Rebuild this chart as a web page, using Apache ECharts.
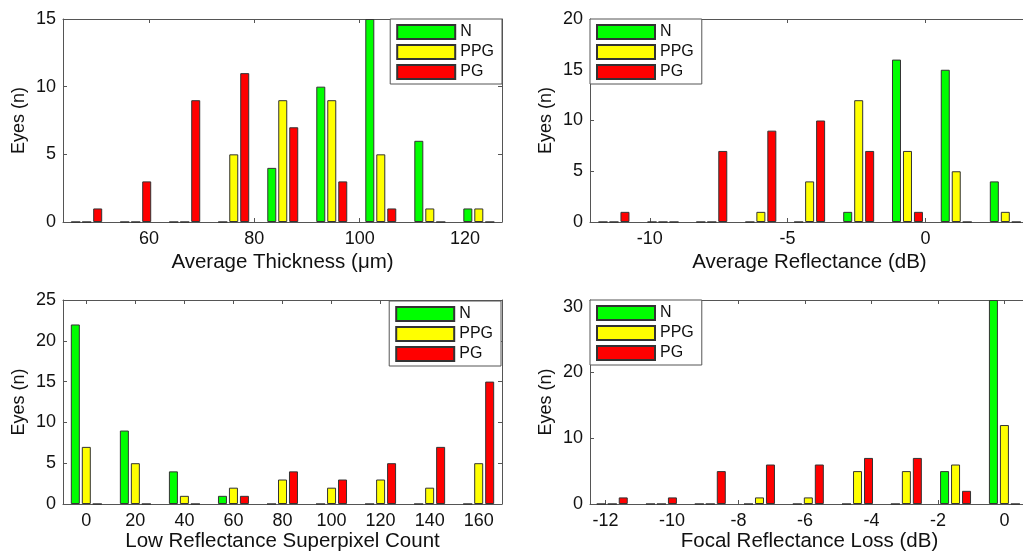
<!DOCTYPE html>
<html>
<head>
<meta charset="utf-8">
<script src="https://cdn.jsdelivr.net/npm/echarts@6/dist/echarts.min.js"></script>
<style>
  html, body { margin: 0; padding: 0; background: #fff; }
  #main { width: 1023px; height: 552px; }
</style>
</head>
<body>
<div id="main"></div>
<script>
// bin centres and counts
const thickBins = [48.2, 57.5, 66.8, 76.1, 85.4, 94.7, 104.0, 113.3, 122.6];
const thickN    = [0, 0, 0, 0, 4, 10, 15, 6, 1];
const thickPPG  = [0, 0, 0, 5, 9, 9, 5, 1, 1];
const thickPG   = [1, 3, 9, 11, 7, 3, 1, 0, 0];
const thickTicks = [60, 80, 100, 120];

const reflBins = [-11.3, -9.52, -7.75, -5.97, -4.2, -2.42, -0.65, 1.12, 2.9];
const reflN    = [0, 0, 0, 0, 0, 1, 16, 15, 4];
const reflPPG  = [0, 0, 0, 1, 4, 12, 7, 5, 1];
const reflPG   = [1, 0, 7, 9, 10, 7, 1, 0, 0];
const reflTicks = [-10, -5, 0];

const lowBins = [0, 20, 40, 60, 80, 100, 120, 140, 160];
const lowN    = [22, 9, 4, 1, 0, 0, 0, 0, 0];
const lowPPG  = [7, 5, 1, 2, 3, 2, 3, 2, 5];
const lowPG   = [0, 0, 0, 1, 4, 3, 5, 7, 15];
const lowTicks = [0, 20, 40, 60, 80, 100, 120, 140, 160];

const focalBins = [-11.8, -10.32, -8.85, -7.37, -5.9, -4.42, -2.95, -1.47, 0];
const focalN    = [0, 0, 0, 0, 0, 0, 0, 5, 31];
const focalPPG  = [0, 0, 0, 1, 1, 5, 5, 6, 12];
const focalPG   = [1, 1, 5, 6, 6, 7, 7, 2, 0];
const focalTicks = [-12, -10, -8, -6, -4, -2, 0];

const GROUPS = ['N', 'PPG', 'PG'];
const COLORS = { N: '#00ff00', PPG: '#ffff00', PG: '#ff0000' };
const FONT = '"Liberation Sans", Arial, sans-serif';
const AXIS = '#555';

// the two right panels run past the right edge of the picture (right < 0)
const panels = [
  { bins: thickBins, vals: [thickN, thickPPG, thickPG], ticks: thickTicks,
    xMin: 43.7, xMax: 127.0, yMax: 15, yTicks: [0, 5, 10, 15],
    name: 'Average Thickness (\u03bcm)', nameGap: 30,
    grid: { left: 63, right: 521, top: 19, bottom: 330 },
    legend: { right: 521, top: 19 } },
  { bins: reflBins, vals: [reflN, reflPPG, reflPG], ticks: reflTicks,
    xMin: -12.17, xMax: 3.76, yMax: 20, yTicks: [0, 5, 10, 15, 20],
    name: 'Average Reflectance (dB)', nameGap: 30,
    grid: { left: 590, right: -6, top: 19, bottom: 330 },
    legend: { left: 590, top: 19 } },
  { bins: lowBins, vals: [lowN, lowPPG, lowPG], ticks: lowTicks,
    xMin: -9.5, xMax: 169.5, yMax: 25, yTicks: [0, 5, 10, 15, 20, 25],
    name: 'Low Reflectance Superpixel Count', nameGap: 25,
    grid: { left: 63, right: 521, top: 300, bottom: 48 },
    legend: { right: 522, top: 301 } },
  { bins: focalBins, vals: [focalN, focalPPG, focalPG], ticks: focalTicks,
    xMin: -12.47, xMax: 0.74, yMax: 31, yTicks: [0, 10, 20, 30],
    name: 'Focal Reflectance Loss (dB)', nameGap: 25,
    grid: { left: 590, right: -6, top: 300, bottom: 48 },
    legend: { left: 590, top: 300 } }
];

const grid = [], xAxis = [], yAxis = [], series = [], legend = [];

panels.forEach((p, i) => {
  grid.push(Object.assign({ show: false, outerBoundsMode: 'none', containLabel: false }, p.grid));

  const tickStyle = { show: true, inside: true, length: 4, lineStyle: { color: AXIS } };
  const lineStyle = { show: true, onZero: false, lineStyle: { color: AXIS, width: 1 } };

  // bottom x axis with labels, top one only for the box and ticks
  xAxis.push({
    type: 'value', gridIndex: i, position: 'bottom', min: p.xMin, max: p.xMax,
    axisLine: lineStyle, splitLine: { show: false },
    axisTick: Object.assign({ customValues: p.ticks }, tickStyle),
    axisLabel: { customValues: p.ticks, color: '#111', fontSize: 18, fontFamily: FONT, margin: 8 },
    name: p.name, nameLocation: 'middle', nameGap: p.nameGap,
    nameTextStyle: { color: '#111', fontSize: 20.5, fontFamily: FONT }
  });
  xAxis.push({
    type: 'value', gridIndex: i, position: 'top', min: p.xMin, max: p.xMax,
    axisLine: lineStyle, splitLine: { show: false },
    axisTick: Object.assign({ customValues: p.ticks }, tickStyle),
    axisLabel: { show: false }
  });

  yAxis.push({
    type: 'value', gridIndex: i, position: 'left', min: 0, max: p.yMax,
    axisLine: lineStyle, splitLine: { show: false },
    axisTick: Object.assign({ customValues: p.yTicks }, tickStyle),
    axisLabel: { customValues: p.yTicks, color: '#111', fontSize: 18, fontFamily: FONT, margin: 7 },
    name: 'Eyes (n)', nameLocation: 'middle', nameGap: 35,
    nameTextStyle: { color: '#111', fontSize: 18, fontFamily: FONT }
  });
  yAxis.push({
    type: 'value', gridIndex: i, position: 'right', min: 0, max: p.yMax,
    axisLine: lineStyle, splitLine: { show: false },
    axisTick: Object.assign({ customValues: p.yTicks }, tickStyle),
    axisLabel: { show: false }
  });

  GROUPS.forEach((g, k) => {
    series.push({
      name: g, type: 'bar',
      xAxisIndex: i * 2, yAxisIndex: i * 2,
      data: p.bins.map((x, j) => [x, p.vals[k][j]]),
      barWidth: 9, barGap: '22%',
      itemStyle: { color: COLORS[g], borderColor: '#333', borderWidth: 1 },
      emphasis: { disabled: true },
      animation: false
    });
  });

  legend.push(Object.assign({
    data: GROUPS, orient: 'vertical', icon: 'rect',
    itemWidth: 58, itemHeight: 14, itemGap: 4,
    padding: [5, 8, 4, 6],
    backgroundColor: '#fff', borderColor: AXIS, borderWidth: 1,
    textStyle: { color: '#111', fontSize: 16, fontFamily: FONT },
    selectedMode: false
  }, p.legend));
});

const chart = echarts.init(document.getElementById('main'));
chart.setOption({
  animation: false,
  grid: grid, xAxis: xAxis, yAxis: yAxis, series: series, legend: legend
});
window.addEventListener('resize', () => chart.resize());
</script>
</body>
</html>
